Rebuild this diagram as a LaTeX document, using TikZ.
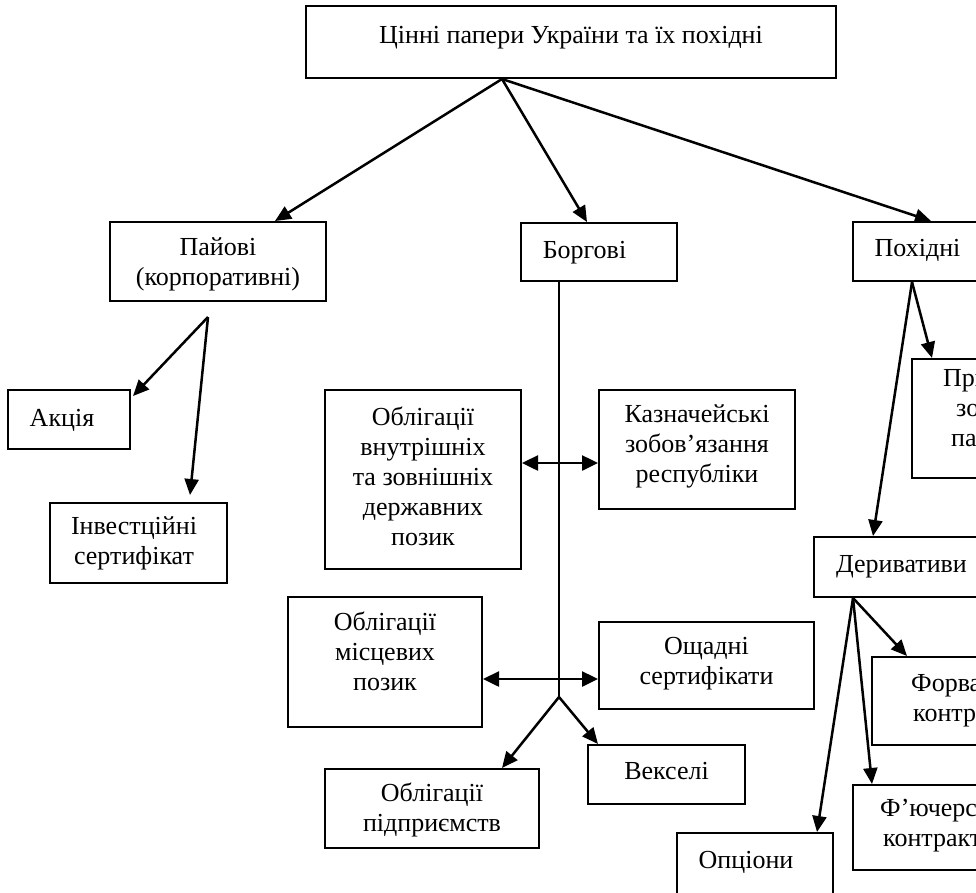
\documentclass[tikz,border=0pt]{standalone}
\usepackage{fontspec}
\setmainfont{Liberation Serif}
\usetikzlibrary{arrows.meta,calc}
\begin{document}
\begin{tikzpicture}[x=1pt,y=-1pt,
  box/.style={draw,line width=2pt,inner sep=0pt,fill=none},
  lbl/.style={font=\fontsize{26}{30}\selectfont,align=center,inner sep=0pt,
    execute at begin node=\strut,execute at end node=\strut},
  lbll/.style={lbl,align=left,anchor=west},
  arr/.style={line width=2.5pt,-{Triangle[length=16pt,width=14pt]}},
  darr/.style={line width=2.5pt,{Triangle[length=16pt,width=15pt]}-{Triangle[length=16pt,width=15pt]}},
  trunk/.style={line width=1.8pt}]
\useasboundingbox (0,0) rectangle (976,892);
\fill[white] (0,0) rectangle (976,892);
\clip (0,0) rectangle (976,892);

% boxes
\node[box,minimum width=530pt,minimum height=72pt] (top) at (571,42) {};
\node[box,minimum width=216pt,minimum height=79pt] (paiovi) at (218,261.5) {};
\node[box,minimum width=156pt,minimum height=58pt] (borg) at (599,252) {};
\node[box,minimum width=160pt,minimum height=59pt] (poh) at (933,251.5) {};
\node[box,minimum width=122pt,minimum height=59pt] (akc) at (69,419.5) {};
\node[box,minimum width=177pt,minimum height=80pt] (inv) at (138.5,543) {};
\node[box,minimum width=196pt,minimum height=179pt] (obl1) at (423,479.5) {};
\node[box,minimum width=196pt,minimum height=119pt] (kazn) at (697,449.5) {};
\node[box,minimum width=194pt,minimum height=130pt] (obl2) at (385,662) {};
\node[box,minimum width=215pt,minimum height=87pt] (osh) at (706.5,665.5) {};
\node[box,minimum width=157pt,minimum height=59pt] (veks) at (666.5,774.5) {};
\node[box,minimum width=214pt,minimum height=79pt] (oblp) at (432,808.5) {};
\node[box,minimum width=120pt,minimum height=119pt] (pryv) at (972,418.5) {};
\node[box,minimum width=200pt,minimum height=60pt] (der) at (914,567) {};
\node[box,minimum width=160pt,minimum height=88pt] (forv) at (952,701) {};
\node[box,minimum width=180pt,minimum height=85pt] (fut) at (943,827.5) {};
\node[box,minimum width=156pt,minimum height=87pt] (opc) at (755,876.5) {};

% labels
\node[lbl] (tTop) at (571,37) {Цінні папери України та їх похідні};
\node[lbl] (tPai) at (218,266) {Пайові\\(корпоративні)};
\node[lbl] (tBorg) at (584.5,252) {Боргові};
\node[lbl] (tPoh) at (917.5,250) {Похідні};
\node[lbl] (tAkc) at (62,420) {Акція};
\node[lbl] (tInv) at (134,545) {Інвестційні\\сертифікат};
\node[lbl] (tObl1) at (423,481) {Облігації\\внутрішніх\\та зовнішніх\\державних\\позик};
\node[lbl] (tKazn) at (697,448) {Казначейські\\зобов’язання\\республіки};
\node[lbl] (tObl2) at (385,656) {Облігації\\місцевих\\позик};
\node[lbl] (tOsh) at (706.5,665) {Ощадні\\сертифікати};
\node[lbl] (tVeks) at (666.5,773) {Векселі};
\node[lbl] (tOblp) at (432,812) {Облігації\\підприємств};
\node[lbl] (tDer) at (901.5,566) {Деривативи};
\node[lbll] (tPryv) at (943,412) {Приватизаційні\\\hspace*{13pt}зобов’язання\\\hspace*{8pt}папери};
\node[lbll] (tForv) at (911,702) {Форвардні\\\hspace*{2pt}контракти};
\node[lbll] (tFut) at (880,827) {Ф’ючерсні\\\hspace*{3pt}контракти};
\node[lbl] (tOpc) at (746,862) {Опціони};

% connectors from the top box
\coordinate (tf) at (502,0 |- top.south);
\draw[arr] (tf) -- (275,0 |- paiovi.north);
\draw[arr] (tf) -- (587,0 |- borg.north);
\draw[arr] (tf) -- (931,0 |- poh.north);

% shares branch
\coordinate (pf) at (208,317);
\draw[arr] (pf) -- ($(akc.north east)+(2,7)$);
\draw[arr] (pf) -- ($(190,0 |- inv.north)+(0,-7)$);

% debt branch
\coordinate (bf) at (559,697);
\draw[trunk] (559,0 |- borg.south) -- (bf);
\draw[darr] (obl1.east |- 0,463) -- (kazn.west |- 0,463);
\draw[darr] (obl2.east |- 0,679) -- (osh.west |- 0,679);
\draw[arr] (bf) -- (502,0 |- oblp.north);
\draw[arr] (bf) -- (598,0 |- veks.north);

% derivatives branch
\coordinate (hf) at (912,0 |- poh.south);
\draw[arr] (hf) -- (932,0 |- pryv.north);
\draw[arr] (hf) -- (873,0 |- der.north);
\coordinate (df) at (853,0 |- der.south);
\draw[arr] (df) -- (907,0 |- forv.north);
\draw[arr] (df) -- (872,0 |- fut.north);
\draw[arr] (df) -- (817,0 |- opc.north);
\end{tikzpicture}
\end{document}
